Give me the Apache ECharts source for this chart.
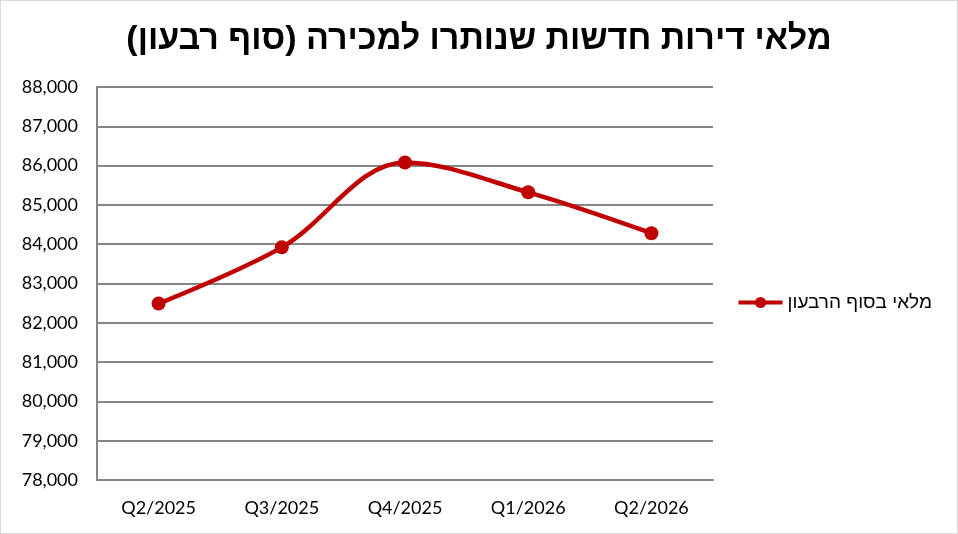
<!DOCTYPE html>
<html>
<head>
<meta charset="utf-8">
<script src="https://cdn.jsdelivr.net/npm/echarts@6/dist/echarts.min.js"></script>
<style>
html,body{margin:0;padding:0;background:#fff;}
#wrap{position:absolute;left:0;top:0;width:956px;height:532px;border:1px solid #d9d9d9;}
#c{width:956px;height:532px;}
</style>
</head>
<body>
<div id="wrap"><div id="c"></div></div>
<script>
const titleText = 'מלאי דירות חדשות שנותרו למכירה (סוף רבעון)';
const seriesName = 'מלאי בסוף הרבעון';
const categories = ['Q2/2025', 'Q3/2025', 'Q4/2025', 'Q1/2026', 'Q2/2026'];
const inventory = [82490, 83920, 86080, 85320, 84280];

const chart = echarts.init(document.getElementById('c'));
chart.setOption({
  animation: false,
  title: {
    text: titleText,
    left: 'center',
    top: 17,
    textStyle: {fontFamily: 'Liberation Sans', fontWeight: 'bold', fontSize: 34, color: '#000'}
  },
  legend: {
    data: [seriesName],
    right: 20,
    top: 287,
    itemWidth: 44,
    itemHeight: 14,
    itemGap: 4,
    lineStyle: {width: 4, color: '#c00000'},
    itemStyle: {color: '#c00000'},
    textStyle: {fontFamily: 'Liberation Sans', fontSize: 19, color: '#000'}
  },
  grid: {left: 96, right: 244, top: 86, bottom: 53},
  xAxis: {
    type: 'category',
    data: categories,
    boundaryGap: true,
    axisLine: {lineStyle: {color: '#868686', width: 2}},
    axisTick: {show: false},
    axisLabel: {fontFamily: 'Lato', fontSize: 18, color: '#000', margin: 19}
  },
  yAxis: {
    type: 'value',
    min: 78000,
    max: 88000,
    interval: 1000,
    axisLine: {show: true, lineStyle: {color: '#868686', width: 2}},
    axisTick: {show: false},
    splitLine: {lineStyle: {color: '#868686', width: 2}},
    axisLabel: {
      fontFamily: 'Lato', fontSize: 18, color: '#000', margin: 19,
      formatter: v => v.toLocaleString('en-US')
    }
  },
  series: [{
    name: seriesName,
    type: 'line',
    data: inventory,
    smooth: 0.35,
    symbol: 'circle',
    symbolSize: 14,
    lineStyle: {color: '#c00000', width: 4.5},
    itemStyle: {color: '#c00000'}
  }]
});
</script>
</body>
</html>
